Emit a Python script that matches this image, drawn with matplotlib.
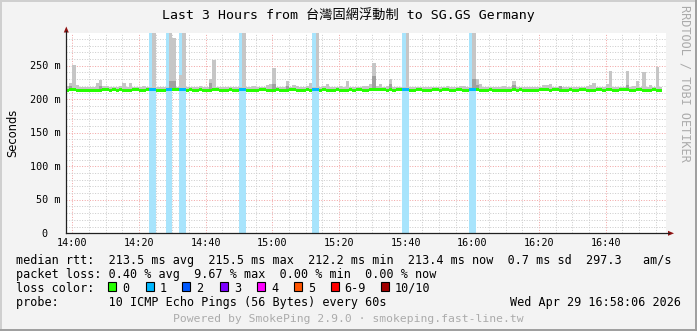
import numpy as np
import matplotlib
matplotlib.use('Agg')
import matplotlib.pyplot as plt
import matplotlib.patches as mpatches
import matplotlib.transforms as mtransforms
from matplotlib.ticker import MultipleLocator

W, H = 697, 331
MONO = ['DejaVu Sans Mono', 'Noto Sans CJK TC']

# one value per 60 s step, first step starts 13:58 (2 minutes before 14:00)
median_ms = [
    213.0, 213.8, 214.2, 213.5, 212.8, 212.6, 213.0, 213.4, 212.7, 212.9,
    213.6, 214.3, 213.9, 213.2, 213.8, 213.1, 214.0, 213.5, 212.9, 213.6,
    214.4, 213.8, 212.6, 213.3, 213.9, 214.2, 214.1, 213.4, 213.0, 213.7,
    214.3, 214.0, 214.5, 213.8, 214.7, 214.2, 213.1, 213.8, 212.9, 213.4,
    214.0, 213.6, 212.8, 213.2, 214.3, 213.9, 213.3, 212.9, 213.5, 214.0,
    213.4, 212.8, 214.6, 214.4, 213.7, 213.2, 212.7, 213.4, 214.0, 213.8,
    213.1, 212.6, 213.5, 214.1, 213.6, 213.0, 212.5, 213.8, 214.2, 213.4,
    212.9, 213.5, 214.0, 213.3, 214.5, 214.8, 213.2, 213.9, 212.8, 212.4,
    213.4, 214.0, 213.6, 213.0, 213.7, 214.2, 213.5, 213.9, 214.1, 213.6,
    213.2, 214.0, 214.3, 213.8, 214.4, 214.0, 213.5, 213.9, 213.3, 213.8,
    214.1, 214.6, 214.3, 213.7, 213.2, 213.8, 214.0, 213.5, 213.0, 213.6,
    214.2, 213.9, 213.4, 213.8, 214.1, 213.5, 213.0, 213.9, 214.2, 213.6,
    213.3, 214.5, 214.6, 213.8, 213.1, 212.6, 213.4, 213.9, 213.2, 213.6,
    213.0, 212.4, 212.5, 213.3, 213.8, 213.5, 214.0, 213.7, 213.1, 212.7,
    212.4, 213.4, 213.9, 214.3, 213.8, 213.2, 213.9, 214.4, 213.6, 213.1,
    213.7, 214.0, 213.5, 213.2, 213.8, 214.1, 213.6, 213.0, 213.5, 214.0,
    213.8, 213.3, 214.0, 214.2, 213.7, 213.4, 213.9, 214.3, 213.8, 213.5,
    213.2, 213.9, 214.1, 213.6, 213.0, 213.4, 213.8, 213.5, 213.3, np.nan,
]

smoke_max_ms = [
    219.0, 223.6, 251.6, 221.0, 218.0, 217.5, 218.0, 218.5, 218.0, 223.6,
    228.6, 219.5, 219.5, 218.0, 218.0, 217.5, 219.0, 224.6, 218.0, 224.6,
    218.0, 218.0, 217.5, 219.0, 218.0, 218.5, 300.0, 218.0, 217.5, 218.0,
    218.0, 300.0, 292.0, 218.5, 236.0, 300.0, 218.0, 217.5, 218.0, 218.0,
    219.0, 218.0, 218.0, 229.7, 258.5, 218.5, 218.0, 217.5, 218.0, 218.0,
    217.5, 218.0, 218.0, 300.0, 218.0, 217.5, 220.0, 218.0, 218.0, 218.5,
    221.0, 222.6, 247.0, 218.0, 218.0, 218.5, 227.6, 218.0, 221.0, 219.0,
    218.0, 217.5, 219.0, 224.6, 218.0, 300.0, 218.0, 219.5, 222.6, 218.0,
    217.5, 218.0, 219.0, 218.0, 227.6, 218.0, 218.0, 217.5, 218.5, 219.0,
    219.0, 222.6, 254.5, 219.0, 222.6, 218.0, 219.5, 230.6, 218.0, 218.0,
    218.0, 218.0, 300.0, 218.0, 217.5, 218.0, 218.0, 218.0, 217.5, 218.0,
    218.0, 218.0, 218.0, 218.5, 219.5, 218.0, 218.0, 218.5, 219.5, 219.5,
    218.0, 218.0, 300.0, 230.0, 222.6, 218.0, 218.0, 218.0, 218.0, 218.0,
    218.0, 219.0, 218.0, 218.0, 227.6, 218.0, 218.0, 217.5, 217.5, 218.0,
    218.0, 218.0, 218.5, 221.0, 221.0, 222.6, 218.0, 218.5, 219.5, 218.0,
    218.0, 218.0, 218.0, 218.0, 218.0, 218.5, 219.5, 221.0, 224.6, 218.0,
    218.0, 218.0, 222.6, 242.0, 218.0, 218.0, 218.0, 218.5, 242.0, 218.0,
    219.5, 227.0, 218.0, 241.0, 218.0, 221.0, 218.0, 248.5, 217.5, np.nan,
]
smoke_floor_ms = 211.5

dark_steps = [1, 10, 31, 32, 43, 62, 66, 92, 97, 122, 123, 134, 148, 168]
dark_top_ms = [219.0, 220.0, 227.0, 227.0, 224.6, 222.0, 220.0, 234.6, 222.0,
               230.0, 221.0, 221.0, 219.0, 221.0]

loss_steps = [25, 26, 30, 31, 34, 35, 52, 53, 74, 75, 101, 102, 121, 122]
loss_count = [1, 1, 1, 1, 1, 1, 1, 1, 1, 1, 1, 1, 1, 1]

x_ticks = [0, 20, 40, 60, 80, 100, 120, 140, 160]
x_labels = ['14:00', '14:20', '14:40', '15:00', '15:20', '15:40', '16:00', '16:20', '16:40']
y_ticks = [0, 50, 100, 150, 200, 250]
y_labels = ['0', '50 m', '100 m', '150 m', '200 m', '250 m']

loss_colors = ['#26ff00', '#00b8ff', '#0059ff', '#7e00ff', '#ff00ff', '#ff5500', '#ff0000', '#a10000']
loss_names = ['0', '1', '2', '3', '4', '5', '6-9', '10/10']

YTOP = 298.3

fig = plt.figure(figsize=(W / 100, H / 100), dpi=100, facecolor='#f3f3f3')
ax = fig.add_axes([66 / W, 1 - 233.3 / H, 600 / W, 200 / H])
ax.set_facecolor('white')
ax.set_xlim(-1.9, 178.1)
ax.set_ylim(0, YTOP)

n = len(median_ms)
x = np.arange(n) - 2.0
med = np.array(median_ms, dtype=float)
mx = np.array(smoke_max_ms, dtype=float)
ok = ~np.isnan(med)

# loss background stripes
lx = x[loss_steps]
ax.bar(lx, YTOP, bottom=0, width=1, align='edge', color='#a8e4fc', linewidth=0, zorder=1)

# smoke
ax.bar(x[ok], np.minimum(mx[ok], YTOP) - smoke_floor_ms, bottom=smoke_floor_ms, width=1,
       align='edge', color='#c6c6c6', linewidth=0, zorder=2, antialiased=False)
ax.bar(x[dark_steps], np.array(dark_top_ms) - smoke_floor_ms, bottom=smoke_floor_ms, width=1,
       align='edge', color='#a0a0a0', linewidth=0, zorder=2.1, antialiased=False)

# median band coloured by loss
counts = np.zeros(n, dtype=int)
counts[loss_steps] = loss_count
cols = [loss_colors[c] for c in counts[ok]]
ax.bar(x[ok], 4.5, bottom=med[ok] - 2.25, width=1, align='edge', color=cols,
       linewidth=0, zorder=3, antialiased=False)

ax.xaxis.set_major_locator(MultipleLocator(20))
ax.xaxis.set_minor_locator(MultipleLocator(5))
ax.yaxis.set_major_locator(MultipleLocator(50))
ax.yaxis.set_minor_locator(MultipleLocator(10))
ax.grid(which='minor', color='#cdcdcd', linestyle=(0, (1, 1.6)), linewidth=0.72)
ax.grid(which='major', color='#f2a6a6', linestyle=(0, (1, 1.6)), linewidth=0.72)
ax.set_axisbelow(True)
ax.tick_params(which='both', length=0, labelbottom=False, labelleft=False)
for s in ax.spines.values():
    s.set_visible(False)

# pixel overlay for frame, axes and texts
fa = fig.add_axes([0, 0, 1, 1], zorder=5)
fa.set_xlim(0, W)
fa.set_ylim(H, 0)
fa.axis('off')
fa.patch.set_alpha(0)

fa.plot([0, W], [0.5, 0.5], color='#cfcfcf', lw=1.4, clip_on=False)
fa.plot([0.5, 0.5], [0, H], color='#cfcfcf', lw=1.4, clip_on=False)
fa.plot([0, W], [H - 0.8, H - 0.8], color='#9e9e9e', lw=1.4, clip_on=False)
fa.plot([W - 0.8, W - 0.8], [0, H], color='#9e9e9e', lw=1.4, clip_on=False)

fa.plot([66, 669], [233.3, 233.3], color='#202020', lw=0.9)
fa.plot([66.3, 66.3], [233.3, 31], color='#202020', lw=0.9)
fa.add_patch(mpatches.Polygon([(668, 230.8), (674, 233.3), (668, 235.8)], closed=True,
                              color='#8f1010', lw=0))
fa.add_patch(mpatches.Polygon([(63.8, 32.5), (66.3, 26.5), (68.8, 32.5)], closed=True,
                              color='#8f1010', lw=0))

fa.text(348.5, 19.5, 'Last 3 Hours from 台灣固網浮動制 to SG.GS Germany', ha='center',
        va='baseline', fontsize=9.5, family=MONO, color='black')

ytrans = mtransforms.blended_transform_factory(fa.transData, ax.transData) + \
    mtransforms.ScaledTranslation(0, -3.6 / 100, fig.dpi_scale_trans)
for v, lab in zip(y_ticks, y_labels):
    xr = 47.5 if lab == '0' else 60.5
    fa.text(xr, v, lab, transform=ytrans, ha='right', va='baseline', fontsize=7.3, family=MONO)

xtrans = mtransforms.blended_transform_factory(ax.transData, fa.transData)
for v, lab in zip(x_ticks, x_labels):
    fa.text(v, 245.5, lab, transform=xtrans, ha='center', va='baseline', fontsize=7.3, family=MONO)

fa.text(12.5, 132.5, 'Seconds', rotation=90, ha='center', va='center', fontsize=8.3,
        family='DejaVu Sans', color='black')
fa.text(685, 5, 'RRDTOOL / TOBI OETIKER', rotation=270, ha='center', va='top', fontsize=8.6,
        family=MONO, color='#ababab')

LF = 8.5
fa.text(16, 263.6, 'median rtt:  213.5 ms avg  215.5 ms max  212.2 ms min  213.4 ms now  0.7 ms sd  297.3   am/s',
        ha='left', va='baseline', fontsize=LF, family=MONO)
fa.text(16, 277.6, 'packet loss: 0.40 % avg  9.67 % max  0.00 % min  0.00 % now',
        ha='left', va='baseline', fontsize=LF, family=MONO)
fa.text(16, 291.6, 'loss color:', ha='left', va='baseline', fontsize=LF, family=MONO)
box_x = [108.3, 145.7, 182.3, 219.7, 257.0, 294.3, 330.5, 381.0]
for bx, c, lab in zip(box_x, loss_colors, loss_names):
    fa.add_patch(mpatches.Rectangle((bx, 282.3), 8, 8.3, facecolor=c, edgecolor='black', lw=0.8))
    fa.text(bx + 14, 291.6, lab, ha='left', va='baseline', fontsize=LF, family=MONO)
fa.text(16, 305.6, 'probe:       10 ICMP Echo Pings (56 Bytes) every 60s',
        ha='left', va='baseline', fontsize=LF, family=MONO)
fa.text(681, 305.6, 'Wed Apr 29 16:58:06 2026', ha='right', va='baseline', fontsize=LF, family=MONO)
fa.text(348.5, 321.5, 'Powered by SmokePing 2.9.0 · smokeping.fast-line.tw', ha='center',
        va='baseline', fontsize=8.2, family=MONO, color='#ababab')

fig.savefig('out.png', dpi=100, facecolor=fig.get_facecolor())
